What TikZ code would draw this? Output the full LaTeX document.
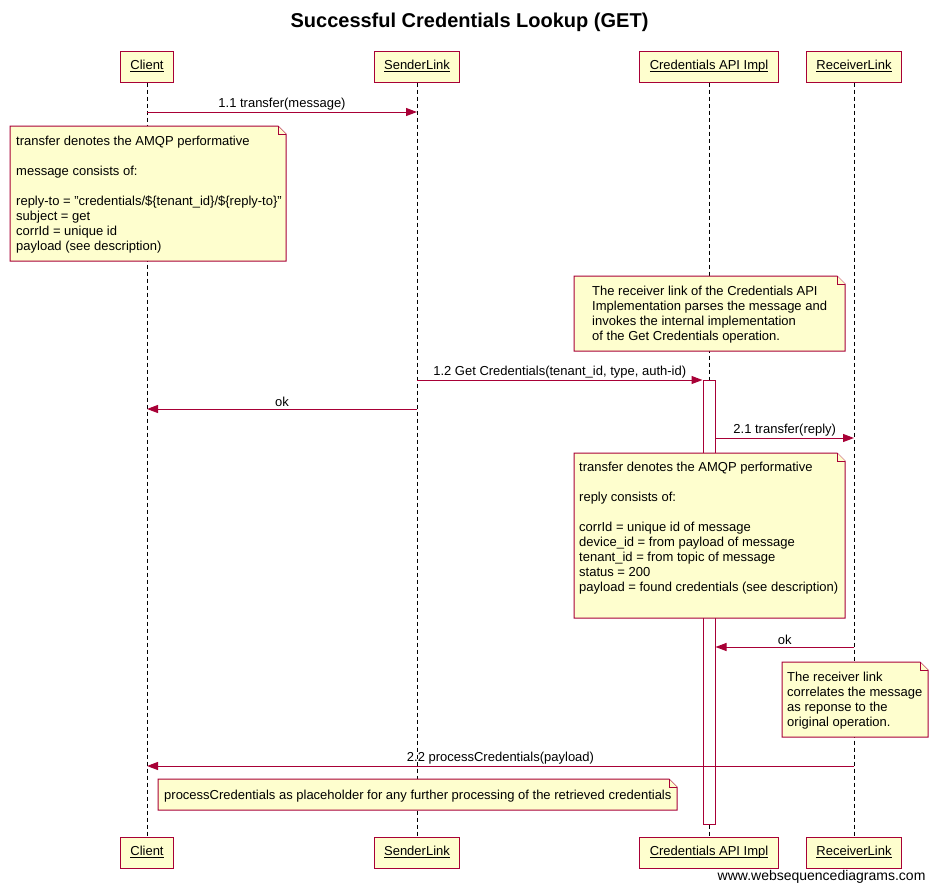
\documentclass[tikz,border=0pt]{standalone}
\usepackage{fontspec}
\setmainfont{Liberation Sans}
\usetikzlibrary{arrows.meta}
\definecolor{wsdred}{HTML}{A80036}
\definecolor{wsdfill}{HTML}{FEFECE}
% underlined participant name
\newcommand{\pname}[1]{\underline{\smash{#1}}}
% note with folded corner: x1,y1,x2,y2
\newcommand{\notebox}[4]{%
  \filldraw[notebg] (#1,#2) -- (#3-8,#2) -- (#3,#2+8) -- (#3,#4) -- (#1,#4) -- cycle;
  \draw[notebg] (#3-8,#2) |- (#3,#2+8);}

\begin{document}
\begin{tikzpicture}[x=1pt,y=-1pt,
  every node/.style={font=\fontsize{13}{15}\selectfont},
  party/.style={draw=wsdred,fill=wsdfill,line width=1pt,minimum height=31pt,inner xsep=10pt,text height=9.5pt,text depth=3pt},
  lifeline/.style={black,line width=1pt,dash pattern=on 4pt off 3pt},
  notebg/.style={draw=wsdred,fill=wsdfill,line width=1pt},
  notetext/.style={anchor=north west,align=left,inner sep=0pt},
  msg/.style={wsdred,line width=1pt,-{Triangle[length=11pt,width=8pt]}},
  msglabel/.style={midway,above,inner sep=1.5pt,text=black},
  actbar/.style={draw=wsdred,fill=white,line width=1pt,minimum width=12pt,minimum height=444pt,inner sep=0pt}]
\useasboundingbox (0,0) rectangle (938,892);
% Title
\node[font=\fontsize{20}{24}\bfseries\selectfont] (title) at (469.5,22) {Successful Credentials Lookup (GET)};
% Participants (top and bottom)
\node[party] (client) at (147,66.5) {\pname{Client}};
\node[party] (sender) at (417,66.5) {\pname{SenderLink}};
\node[party] (credapi) at (709,66.5) {\pname{Credentials API Impl}};
\node[party] (receiver) at (854,66.5) {\pname{ReceiverLink}};
\node[party] (clientb) at (147,852.5) {\pname{Client}};
\node[party] (senderb) at (417,852.5) {\pname{SenderLink}};
\node[party] (credapib) at (709,852.5) {\pname{Credentials API Impl}};
\node[party] (receiverb) at (854,852.5) {\pname{ReceiverLink}};
% Lifelines
\draw[lifeline] (client) -- (clientb);
\draw[lifeline] (sender) -- (senderb);
\draw[lifeline] (credapi) -- (credapib);
\draw[lifeline] (receiver) -- (receiverb);
% Activation
\node[actbar] (act) at (709,602) {};
% Notes
\notebox{10}{126}{286}{261}
\node[notetext] (note1) at (16,136) {transfer denotes the AMQP performative\\[15pt]
  message consists of:\\[15pt]
  reply-to = "credentials/\$\{tenant\_id\}/\$\{reply-to\}"\\
  subject = get\\
  corrId = unique id\\
  payload (see description)};
\notebox{574}{276}{845}{351}
\node[notetext] (note2) at (592,286) {The receiver link of the Credentials API\\
  Implementation parses the message and\\
  invokes the internal implementation\\
  of the Get Credentials operation.};
\notebox{574}{453}{845}{618}
\node[notetext] (note3) at (579,462) {transfer denotes the AMQP performative\\[15pt]
  reply consists of:\\[15pt]
  corrId = unique id of message\\
  device\_id = from payload of message\\
  tenant\_id = from topic of message\\
  status = 200\\
  payload = found credentials (see description)};
\notebox{782}{662}{928}{737}
\node[notetext] (note4) at (787,672) {The receiver link\\
  correlates the message\\
  as reponse to the\\
  original operation.};
\notebox{158}{779}{677}{810}
\node[notetext] (note5) at (164,790) {processCredentials as placeholder for any further processing of the retrieved credentials};
% Messages
\draw[msg] (client |- 0,112) -- (sender |- 0,112) node[msglabel] {1.1 transfer(message)};
\draw[msg] (sender |- 0,380) -- (act.west |- 0,380) node[msglabel] {1.2 Get Credentials(tenant\_id, type, auth-id)};
\draw[msg] (sender |- 0,409) -- (client |- 0,409) node[msglabel] {ok};
\draw[msg] (act.east |- 0,438) -- (receiver |- 0,438) node[msglabel] {2.1 transfer(reply)};
\draw[msg] (receiver |- 0,647) -- (act.east |- 0,647) node[msglabel] {ok};
\draw[msg] (receiver |- 0,766) -- (client |- 0,766) node[msglabel] {2.2 processCredentials(payload)};
% Footer
\node[font=\fontsize{14}{16}\selectfont,anchor=east] (footer) at (929,877) {www.websequencediagrams.com};
\end{tikzpicture}
\end{document}
